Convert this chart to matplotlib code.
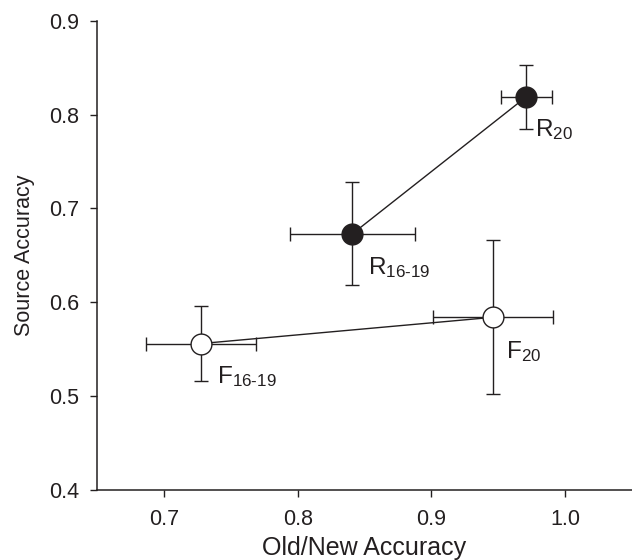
import matplotlib
matplotlib.use("Agg")
import matplotlib.pyplot as plt

plt.rcParams["font.family"] = ["Liberation Sans", "DejaVu Sans"]
plt.rcParams["mathtext.fontset"] = "custom"
plt.rcParams["mathtext.rm"] = "Liberation Sans"
plt.rcParams["mathtext.it"] = "Liberation Sans"

# condition means and error bars
names = ["R$_{20}$", "R$_{16\\text{-}19}$", "F$_{20}$", "F$_{16\\text{-}19}$"]
old_new = [0.971, 0.841, 0.946, 0.7275]
source = [0.819, 0.673, 0.584, 0.556]
old_new_err = [0.019, 0.047, 0.045, 0.041]
source_err = [0.034, 0.055, 0.082, 0.040]
filled = [True, True, False, False]

ink = "#231f20"

fig = plt.figure(figsize=(6.32, 5.60), dpi=100)
ax = fig.add_axes([0.1535, 0.125, 0.8465, 0.838])

# connecting lines R and F
ax.plot(old_new[:2], source[:2], color=ink, lw=1.0, zorder=2)
ax.plot(old_new[2:], source[2:], color=ink, lw=1.0, zorder=2)

for i in range(len(names)):
    ax.errorbar(old_new[i], source[i], xerr=old_new_err[i], yerr=source_err[i],
                fmt="none", ecolor=ink, elinewidth=1.0, capsize=5, capthick=1.0,
                zorder=1)
    ax.plot(old_new[i], source[i], "o", ms=15, mec=ink, mew=1.0,
            mfc=ink if filled[i] else "white", zorder=3)

# label offsets in points (right, down)
offsets = [(6, -15), (11.5, -15.5), (9.5, -15.5), (12, -14.5)]
for i in range(len(names)):
    ax.annotate(names[i], (old_new[i], source[i]), xytext=offsets[i],
                textcoords="offset points", ha="left", va="top",
                fontsize=17.5, color=ink)

ax.set_xlim(0.65, 1.05)
ax.set_ylim(0.4, 0.9)
ax.set_xticks([0.7, 0.8, 0.9, 1.0])
ax.set_yticks([0.4, 0.5, 0.6, 0.7, 0.8, 0.9])
ax.xaxis.set_major_formatter(matplotlib.ticker.FormatStrFormatter("%.1f"))
ax.yaxis.set_major_formatter(matplotlib.ticker.FormatStrFormatter("%.1f"))

for side in ["top", "right"]:
    ax.spines[side].set_visible(False)
for side in ["left", "bottom"]:
    ax.spines[side].set_linewidth(1.1)
    ax.spines[side].set_color(ink)

ax.tick_params(axis="both", direction="out", length=5, width=1.0,
               colors=ink, labelsize=15.5)
ax.tick_params(axis="x", pad=9)
ax.tick_params(axis="y", pad=8)

ax.set_xlabel("Old/New Accuracy", fontsize=18, color=ink, labelpad=4)
ax.set_ylabel("Source Accuracy", fontsize=15.5, color=ink, labelpad=10)

fig.savefig("out.png", dpi=100)
